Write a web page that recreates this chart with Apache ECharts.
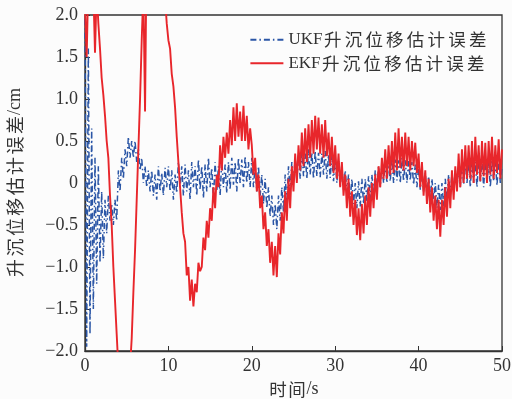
<!DOCTYPE html>
<html>
<head>
<meta charset="utf-8">
<script src="https://cdn.jsdelivr.net/npm/echarts@6/dist/echarts.min.js"></script>
<style>
  html, body { margin: 0; padding: 0; background: #fcfcfc; }
  #chart { width: 512px; height: 399px; }
</style>
</head>
<body>
<div id="chart"></div>
<script>
// Heave displacement estimation error, sampled every 0.2 s from 0 to 50 s
const timeStep = 0.2;
const seriesNames = ['UKF升沉位移估计误差', 'EKF升沉位移估计误差'];
const xAxisTitle = '时间/s';
const yAxisTitle = '升沉位移估计误差/cm';

// UKF estimation error (cm)
const ukfError = [
  1.95, -1.95, 1.6, -1.8, 0.65, -1.5, 0.3, -1.2, 0.2, -0.95,
  -0.1, -0.9, -0.2, -0.6, -0.15, -0.45, -0.25, -0.5, -0.2, -0.45,
  0.15, -0.1, 0.3, 0.05, 0.4, 0.2, 0.55, 0.3, 0.5, 0.3,
  0.5, 0.25, 0.4, 0.15, 0.3, 0.0, 0.2, -0.05, 0.15, -0.1,
  0.15, -0.15, 0.1, -0.2, 0.2, -0.1, 0.12, -0.15, 0.18, -0.05,
  0.2, -0.1, 0.15, -0.2, 0.1, -0.12, 0.25, -0.05, 0.2, -0.15,
  0.22, -0.1, 0.15, -0.2, 0.25, -0.05, 0.2, -0.15, 0.28, -0.08,
  0.2, -0.18, 0.22, -0.1, 0.3, -0.05, 0.18, -0.2, 0.25, -0.1,
  0.2, -0.15, 0.28, -0.05, 0.22, -0.12, 0.25, -0.08, 0.3, -0.02,
  0.25, -0.1, 0.3, 0.0, 0.28, -0.05, 0.32, 0.0, 0.25, -0.05,
  0.3, -0.05, 0.22, -0.1, 0.2, -0.15, 0.1, -0.25, 0.05, -0.3,
  -0.05, -0.4, -0.15, -0.5, -0.25, -0.55, -0.15, -0.45, -0.05, -0.35,
  0.1, -0.25, 0.2, -0.1, 0.25, 0.0, 0.3, 0.02, 0.35, 0.05,
  0.38, 0.08, 0.35, 0.05, 0.4, 0.1, 0.36, 0.05, 0.38, 0.08,
  0.36, 0.07, 0.35, 0.1, 0.38, 0.05, 0.34, 0.06, 0.32, 0.02,
  0.3, 0.0, 0.28, -0.05, 0.22, -0.08, 0.15, -0.1, 0.1, -0.2,
  0.05, -0.25, 0.0, -0.3, 0.02, -0.28, 0.05, -0.25, 0.05, -0.22,
  0.08, -0.2, 0.1, -0.15, 0.15, -0.1, 0.2, -0.05, 0.22, 0.0,
  0.25, 0.0, 0.27, 0.02, 0.3, 0.0, 0.28, 0.03, 0.27, 0.0,
  0.3, 0.02, 0.27, 0.0, 0.26, 0.03, 0.25, -0.02, 0.22, -0.05,
  0.2, -0.08, 0.15, -0.1, 0.12, -0.15, 0.08, -0.18, 0.05, -0.2,
  0.0, -0.3, -0.02, -0.32, 0.0, -0.28, 0.05, -0.2, 0.1, -0.15,
  0.12, -0.1, 0.15, -0.05, 0.2, -0.05, 0.25, -0.02, 0.27, 0.0,
  0.25, -0.05, 0.27, 0.0, 0.25, -0.05, 0.28, 0.02, 0.26, -0.05,
  0.27, 0.0, 0.25, -0.05, 0.28, 0.02, 0.26, -0.03, 0.27, 0.0,
  0.2
];

// EKF estimation error (cm)
const ekfError = [
  2.1, 1.5, 2.4, 2.7, 2.6, 2.3, 1.55, 2.3, 1.9, 1.6,
  1.25, 1.05, 0.8, 0.5, 0.3, -0.15, -0.5, -1.0, -1.4, -1.8,
  -2.2, -2.6, -2.9, -3.1, -3.1, -2.9, -2.6, -2.2, -1.85, -1.3,
  -0.8, -0.2, 0.4, 1.0, 1.7, 2.3, 0.85, 2.9, 3.2, 3.4,
  3.5, 3.5, 3.4, 3.3, 3.1, 2.9, 2.7, 2.5, 2.2, 1.9,
  1.7, 1.6, 1.3, 1.15, 0.9, 0.55, 0.25, -0.05, -0.35, -0.6,
  -0.7, -1.1, -1.0, -1.4, -1.15, -1.47, -1.2, -1.3, -0.95, -1.05,
  -1.0, -0.65, -0.8, -0.45, -0.65, -0.3, -0.45, -0.05, -0.3, 0.1,
  -0.05, 0.45, 0.15, 0.55, 0.3, 0.6, 0.35, 0.75, 0.45, 0.9,
  0.5, 0.95, 0.55, 0.85, 0.5, 0.92, 0.5, 0.8, 0.4, 0.65,
  0.45, 0.1, 0.3, -0.1, 0.1, -0.3, -0.15, -0.55, -0.35, -0.75,
  -0.55, -0.95, -0.7, -1.1, -0.75, -1.12, -0.6, -0.85, -0.35, -0.6,
  -0.1, -0.45, 0.05, -0.3, 0.2, -0.1, 0.35, 0.0, 0.45, 0.15,
  0.6, 0.2, 0.65, 0.25, 0.7, 0.3, 0.75, 0.35, 0.8, 0.4,
  0.78, 0.35, 0.7, 0.3, 0.75, 0.32, 0.6, 0.2, 0.55, 0.12,
  0.45, 0.05, 0.35, -0.05, 0.25, -0.15, 0.1, -0.3, 0.05, -0.4,
  -0.1, -0.5, -0.2, -0.62, -0.3, -0.68, -0.25, -0.6, -0.15, -0.5,
  -0.05, -0.4, 0.0, -0.3, 0.1, -0.2, 0.2, -0.05, 0.3, 0.05,
  0.4, 0.05, 0.45, 0.1, 0.5, 0.12, 0.6, 0.15, 0.65, 0.18,
  0.55, 0.15, 0.6, 0.2, 0.55, 0.15, 0.5, 0.2, 0.48, 0.12,
  0.35, -0.05, 0.25, -0.15, 0.15, -0.25, 0.05, -0.35, -0.05, -0.45,
  -0.15, -0.55, -0.2, -0.64, -0.2, -0.5, -0.05, -0.4, 0.05, -0.3,
  0.15, -0.2, 0.2, -0.1, 0.35, -0.05, 0.4, 0.0, 0.45, 0.05,
  0.45, 0.05, 0.5, 0.0, 0.55, 0.1, 0.45, 0.02, 0.5, 0.08,
  0.48, 0.0, 0.5, 0.1, 0.55, 0.05, 0.45, 0.12, 0.52, 0.05,
  0.4
];

const toPoints = arr => arr.map((v, i) => [+(i * timeStep).toFixed(1), v]);

const serifFont = 'Liberation Serif';
const cjkFont = 'Noto Sans CJK SC';
const axisColor = '#333';
const textColor = '#333';

// Rich-text markup: Latin runs in serif, CJK glyphs spaced out one by one
const isCJK = ch => /[\u4e00-\u9fff]/.test(ch);
function richLabel(text) {
  let out = '';
  let latin = '';
  for (const ch of text) {
    if (isCJK(ch)) {
      if (latin) { out += `{lat|${latin}}`; latin = ''; }
      out += `{cjk|${ch}}`;
    } else {
      latin += ch;
    }
  }
  if (latin) out += `{lat|${latin}}`;
  return out;
}
function richStyles(cjkSize, cjkPad, latSize, lineHeight) {
  return {
    lat: { fontFamily: serifFont, fontSize: latSize, color: textColor, lineHeight },
    cjk: { fontFamily: cjkFont, fontSize: cjkSize, color: textColor, lineHeight, padding: [0, cjkPad, 0, cjkPad] }
  };
}

const chart = echarts.init(document.getElementById('chart'), null, { renderer: 'canvas' });

chart.setOption({
  animation: false,
  backgroundColor: '#fcfcfc',
  grid: {
    left: 85, right: 10, top: 15, bottom: 48,
    outerBoundsMode: 'none',
    containLabel: false,
    show: true, borderColor: axisColor, borderWidth: 1.3,
    backgroundColor: 'transparent'
  },
  legend: {
    orient: 'vertical',
    right: 24, top: 31,
    itemWidth: 33, itemHeight: 14, itemGap: 6,
    padding: 0,
    data: seriesNames,
    itemStyle: { color: 'transparent', borderWidth: 0, opacity: 0 },
    formatter: name => richLabel(name),
    textStyle: {
      color: textColor,
      rich: richStyles(17.5, 1.6, 17, 18)
    }
  },
  xAxis: {
    type: 'value', min: 0, max: 50, interval: 10,
    name: richLabel(xAxisTitle), nameLocation: 'middle', nameGap: 27,
    nameTextStyle: { color: textColor, rich: richStyles(17.5, 0.8, 18, 20) },
    axisLine: { show: true, onZero: false, lineStyle: { color: axisColor, width: 1.3 } },
    axisTick: { show: true, inside: true, length: 5, lineStyle: { color: axisColor } },
    splitLine: { show: false },
    axisLabel: {
      color: textColor, fontFamily: serifFont, fontSize: 18, margin: 6
    }
  },
  yAxis: {
    type: 'value', min: -2, max: 2, interval: 0.5,
    name: richLabel(yAxisTitle), nameLocation: 'middle', nameGap: 60,
    nameRotate: 90,
    nameTextStyle: { color: textColor, rich: richStyles(18, 1.2, 18, 20) },
    axisLine: { show: true, onZero: false, lineStyle: { color: axisColor, width: 1.3 } },
    axisTick: { show: true, inside: true, length: 5, lineStyle: { color: axisColor } },
    splitLine: { show: false },
    axisLabel: {
      color: textColor, fontFamily: serifFont, fontSize: 18, margin: 7,
      formatter: v => v === 0 ? '0' : v.toFixed(1).replace('-', '\u2212')
    }
  },
  series: [
    {
      name: seriesNames[0],
      type: 'line',
      data: toPoints(ukfError),
      symbol: 'none',
      clip: true,
      lineStyle: { color: '#2b56a6', width: 1.5, type: [6, 3, 1.5, 3] },
      itemStyle: { color: '#2b56a6' },
      z: 2
    },
    {
      name: seriesNames[1],
      type: 'line',
      data: toPoints(ekfError),
      symbol: 'none',
      clip: true,
      lineStyle: { color: '#e8262b', width: 1.9 },
      itemStyle: { color: '#e8262b' },
      z: 3
    }
  ]
});
</script>
</body>
</html>
